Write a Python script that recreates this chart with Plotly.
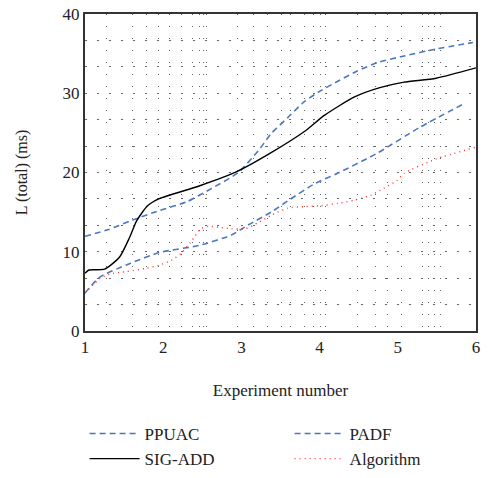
import plotly.graph_objects as go

# ---- data ----
ppuac_x = [1.0, 1.3, 1.61, 1.95, 2.3, 2.62, 2.96, 3.22, 3.38, 3.59, 3.8, 4.01, 4.25, 4.48, 4.75, 5.08, 5.5, 5.96]
ppuac_y = [11.95, 12.8, 14.0, 15.2, 16.3, 18.0, 20.0, 22.8, 24.9, 26.9, 28.9, 30.3, 31.6, 32.8, 33.9, 34.7, 35.6, 36.4]

padf_x = [1.0, 1.19, 1.57, 1.95, 2.46, 2.87, 3.09, 3.38, 3.59, 3.94, 4.23, 4.73, 5.28, 5.87]
padf_y = [4.8, 6.8, 8.5, 9.9, 10.8, 12.1, 13.4, 15.0, 16.4, 18.6, 19.9, 22.4, 25.7, 28.8]

sig_x = [1.0, 1.05, 1.25, 1.44, 1.57, 1.66, 1.80, 1.95, 2.46, 2.96, 3.38, 3.81, 4.06, 4.44, 4.77, 5.08, 5.49, 6.0]
sig_y = [7.3, 7.7, 7.8, 9.3, 11.8, 13.9, 15.8, 16.7, 18.3, 20.2, 22.5, 25.2, 27.2, 29.5, 30.7, 31.4, 31.9, 33.2]

alg_x = [1.0, 1.19, 1.32, 1.53, 1.78, 1.95, 2.10, 2.23, 2.35, 2.48, 2.58, 2.71, 2.87, 3.05, 3.22, 3.38, 3.59, 3.81, 4.01, 4.23, 4.44, 4.65, 4.82, 4.99, 5.08, 5.49, 6.0]
alg_y = [4.8, 6.6, 7.2, 7.5, 7.9, 8.3, 8.9, 9.8, 11.2, 12.9, 13.2, 13.1, 12.9, 12.9, 13.7, 14.6, 15.5, 15.7, 15.8, 16.1, 16.5, 17.1, 18.0, 19.0, 19.9, 21.7, 23.2]

x_ticks = [1, 2, 3, 4, 5, 6]
y_ticks = [0, 10, 20, 30, 40]
x_grid = [1.27, 1.61, 1.78, 1.94, 2.08, 2.23, 2.37, 2.46, 2.51, 2.56,
          2.95, 3.16, 3.34, 3.51, 3.63, 3.81, 3.92, 4.01, 4.08,
          4.48, 4.71, 4.87, 5.05, 5.32, 5.39, 5.47, 5.54]

BLUE = "#4a78c0"
FONT = "Liberation Serif"

fig = go.Figure()
fig.add_trace(go.Scatter(x=ppuac_x, y=ppuac_y, name="PPUAC", mode="lines",
                         line=dict(color=BLUE, width=1.6, dash="6px,4px", shape="spline", smoothing=0.6)))
fig.add_trace(go.Scatter(x=padf_x, y=padf_y, name="PADF", mode="lines",
                         line=dict(color=BLUE, width=1.6, dash="6px,4px", shape="spline", smoothing=0.6)))
fig.add_trace(go.Scatter(x=sig_x, y=sig_y, name="SIG-ADD", mode="lines",
                         line=dict(color="black", width=1.4, shape="spline", smoothing=0.6)))
fig.add_trace(go.Scatter(x=alg_x, y=alg_y, name="Algorithm", mode="lines",
                         line=dict(color="#ff3030", width=1.4, dash="1px,4px", shape="spline", smoothing=0.6)))

fig.update_layout(
    width=473, height=462,
    margin=dict(l=77, r=5, t=6, b=139, autoexpand=False),
    paper_bgcolor="white", plot_bgcolor="white",
    font=dict(family=FONT, size=16, color="#222"),
    showlegend=True,
    legend=dict(orientation="h", x=-0.001, xanchor="left", y=-0.268, yanchor="top",
                entrywidth=140, entrywidthmode="pixels",
                font=dict(family=FONT, size=17, color="#222"),
                itemwidth=50, tracegroupgap=0, bgcolor="rgba(0,0,0,0)"),
    xaxis=dict(range=[1, 6], tickvals=x_ticks, showgrid=False, zeroline=False,
               showline=True, linecolor="#333", linewidth=2, mirror=True,
               ticks="", tickfont=dict(size=17), automargin=False,
               ticklabeloverflow="allow",
               title=dict(text="Experiment number", font=dict(size=17), standoff=28),
               minor=dict(tickmode="array", tickvals=x_grid, showgrid=True,
                          gridcolor="#666", gridwidth=1, griddash="1px,11px", ticks="")),
    yaxis=dict(range=[0, 40], tickvals=y_ticks, showgrid=False, zeroline=False,
               showline=True, linecolor="#333", linewidth=2, mirror=True,
               ticks="", tickfont=dict(size=17), automargin=False,
               ticklabeloverflow="allow",
               title=dict(text="L (total) (ms)", font=dict(size=16), standoff=31),
               minor=dict(tick0=0, dtick=10/3, showgrid=True,
                          gridcolor="#666", gridwidth=1, griddash="2px,10px", ticks="")),
)

fig.write_html("out.html")
